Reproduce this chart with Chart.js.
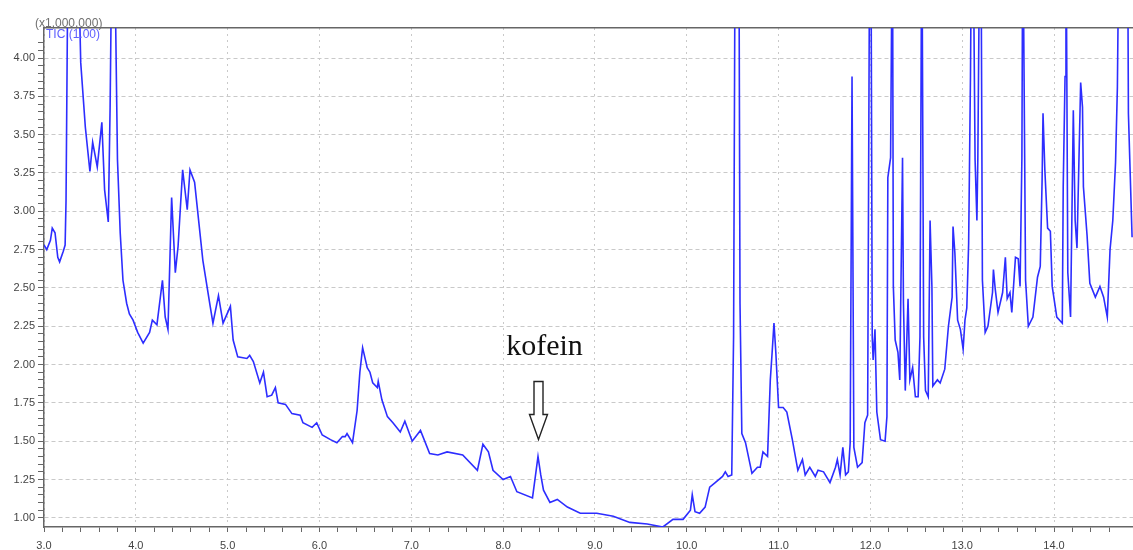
<!DOCTYPE html>
<html>
<head>
<meta charset="utf-8">
<title>TIC kofein</title>
<script src="https://cdn.jsdelivr.net/npm/chart.js@4/dist/chart.umd.min.js"></script>
<style>
  body { margin: 0; background: #fff; }
  canvas { display: block; }
</style>
</head>
<body>
<canvas id="myChart" width="1133" height="550"></canvas>
<script>
'use strict';

// retention time (min)
let times = [
  3.00, 3.03, 3.07, 3.09, 3.12, 3.15, 3.17, 3.21, 3.23, 3.24, 3.26, 3.32, 3.38, 3.40, 3.45, 3.50, 3.53, 3.58, 3.63, 3.66,
  3.70, 3.72, 3.74, 3.77, 3.80, 3.83, 3.86, 3.90, 3.93, 3.97, 4.02, 4.08, 4.15, 4.18, 4.23, 4.29, 4.32, 4.35, 4.39, 4.43, 4.46, 4.51, 4.56,
  4.59, 4.64, 4.73, 4.81, 4.84, 4.90, 4.95, 5.03, 5.06, 5.11, 5.21, 5.24, 5.28, 5.35, 5.39, 5.43, 5.48, 5.52, 5.55, 5.63,
  5.70, 5.79, 5.82, 5.92, 5.97, 6.03, 6.12, 6.19, 6.25, 6.28, 6.30, 6.36, 6.41, 6.44, 6.47, 6.52, 6.55, 6.58, 6.63, 6.64,
  6.68, 6.74, 6.80, 6.88, 6.93, 7.01, 7.10, 7.20, 7.29, 7.39, 7.56, 7.72, 7.78, 7.84, 7.89, 8.00, 8.08, 8.15, 8.32, 8.36,
  8.38, 8.41, 8.44, 8.51, 8.59, 8.70, 8.84, 9.02, 9.20, 9.38, 9.57, 9.74, 9.85, 9.96, 10.04, 10.06, 10.09, 10.14, 10.20, 10.25,
  10.31, 10.39, 10.42, 10.45, 10.49, 10.51, 10.55, 10.58, 10.60, 10.64, 10.71, 10.77, 10.80, 10.83, 10.88, 10.91, 10.93, 10.95, 10.97, 11.00,
  11.05, 11.09, 11.15, 11.21, 11.26, 11.29, 11.34, 11.40, 11.43, 11.49, 11.56, 11.62, 11.64, 11.67, 11.70, 11.73, 11.76, 11.78, 11.80, 11.82,
  11.86, 11.91, 11.94, 11.97, 11.98, 12.00, 12.02, 12.03, 12.05, 12.07, 12.11, 12.16, 12.18, 12.19, 12.22, 12.24, 12.25, 12.27, 12.30, 12.32,
  12.35, 12.36, 12.38, 12.41, 12.43, 12.46, 12.49, 12.52, 12.54, 12.56, 12.58, 12.60, 12.63, 12.65, 12.67, 12.68, 12.73, 12.76, 12.81, 12.85,
  12.89, 12.90, 12.92, 12.95, 12.98, 13.01, 13.03, 13.05, 13.07, 13.09, 13.11, 13.14, 13.16, 13.17, 13.20, 13.22, 13.25, 13.28, 13.33, 13.34,
  13.36, 13.39, 13.44, 13.47, 13.49, 13.52, 13.54, 13.58, 13.61, 13.63, 13.65, 13.66, 13.69, 13.72, 13.77, 13.82, 13.85, 13.87, 13.88, 13.90,
  13.93, 13.96, 13.98, 14.03, 14.09, 14.10, 14.12, 14.13, 14.15, 14.18, 14.21, 14.23, 14.25, 14.29, 14.31, 14.32, 14.36, 14.39, 14.45, 14.50,
  14.54, 14.58, 14.61, 14.64, 14.67, 14.69, 14.71, 14.80, 14.81, 14.85
];

// TIC intensity (x1,000,000)
let intensity = [
  2.78, 2.75, 2.81, 2.89, 2.86, 2.70, 2.67, 2.74, 2.78, 3.07, 4.60, 5.60, 4.50, 3.97, 3.55, 3.26, 3.45, 3.29, 3.58, 3.14,
  2.93, 3.68, 4.80, 4.70, 3.34, 2.86, 2.55, 2.40, 2.33, 2.29, 2.21, 2.14, 2.21, 2.29, 2.26, 2.55, 2.31, 2.23, 3.09, 2.60, 2.77, 3.27, 3.01,
  3.27, 3.19, 2.68, 2.38, 2.27, 2.45, 2.27, 2.38, 2.16, 2.05, 2.04, 2.06, 2.02, 1.88, 1.95, 1.79, 1.80, 1.85, 1.75, 1.74,
  1.68, 1.67, 1.62, 1.59, 1.62, 1.54, 1.51, 1.49, 1.53, 1.53, 1.55, 1.49, 1.70, 1.95, 2.11, 1.98, 1.95, 1.88, 1.85, 1.89,
  1.77, 1.66, 1.62, 1.56, 1.63, 1.50, 1.57, 1.42, 1.41, 1.43, 1.41, 1.31, 1.48, 1.43, 1.31, 1.25, 1.27, 1.17, 1.13, 1.31,
  1.40, 1.28, 1.18, 1.10, 1.12, 1.07, 1.03, 1.03, 1.01, 0.97, 0.96, 0.94, 0.99, 0.99, 1.05, 1.15, 1.04, 1.03, 1.07, 1.20,
  1.23, 1.27, 1.30, 1.27, 1.28, 2.18, 8.50, 2.40, 1.55, 1.49, 1.29, 1.33, 1.33, 1.43, 1.40, 1.90, 2.08, 2.27, 2.08, 1.72,
  1.72, 1.69, 1.51, 1.31, 1.38, 1.28, 1.33, 1.27, 1.31, 1.30, 1.23, 1.33, 1.38, 1.28, 1.46, 1.28, 1.30, 1.49, 3.88, 1.46,
  1.33, 1.36, 1.62, 1.67, 3.12, 6.00, 2.18, 2.03, 2.23, 1.69, 1.51, 1.50, 1.66, 3.22, 3.35, 5.00, 2.51, 2.16, 2.08, 1.90,
  3.35, 2.40, 1.83, 2.43, 1.90, 1.98, 1.79, 1.79, 2.18, 5.00, 2.18, 1.83, 1.79, 2.94, 2.51, 1.86, 1.90, 1.88, 1.97, 2.25,
  2.44, 2.90, 2.73, 2.29, 2.23, 2.10, 2.29, 2.37, 2.79, 3.88, 5.50, 3.34, 2.94, 3.34, 5.50, 2.55, 2.21, 2.25, 2.47, 2.62,
  2.49, 2.34, 2.47, 2.70, 2.43, 2.47, 2.34, 2.70, 2.69, 2.51, 3.35, 5.00, 2.55, 2.25, 2.31, 2.57, 2.64, 3.20, 3.64, 3.27,
  2.89, 2.87, 2.51, 2.31, 2.27, 3.16, 3.88, 5.00, 2.60, 2.31, 3.66, 2.94, 2.76, 3.84, 3.68, 3.16, 2.84, 2.53, 2.44, 2.51,
  2.44, 2.31, 2.75, 2.94, 3.32, 3.81, 5.00, 5.00, 3.64, 2.83
];

const scaleNote = '(x1,000,000)';
const traceNote = 'TIC (1.00)';
const peakLabel = 'kofein';
const peakTime = 8.38;
const peakValue = 1.40;

const xMin = 3.0;
const xMax = 14.86;
const yMin = 0.94;
const yMax = 4.196;

let points = [];
for ( let i = 0; i < times.length; i++ ) {
  points.push( { x: times[i], y: intensity[i] } );
}

function isStep( v, step ) {
  let r = v / step;
  return Math.abs( r - Math.round( r ) ) < 1e-6;
}

const gridGray = '#c9c9c9';
const axisGray = '#666';
const clear = 'rgba(0,0,0,0)';

// labels at the top left and the caffeine arrow
const notes = {
  id: 'notes',
  afterDatasetsDraw( chart ) {
    const { ctx, chartArea, scales } = chart;
    ctx.save();
    ctx.font = '12px "Liberation Sans", Arial, sans-serif';
    ctx.textBaseline = 'alphabetic';
    ctx.textAlign = 'left';
    ctx.fillStyle = '#707070';
    ctx.fillText( scaleNote, chartArea.left - 9, chartArea.top - 1 );
    ctx.fillStyle = '#6060ff';
    ctx.fillText( traceNote, chartArea.left + 2, chartArea.top + 10 );

    let px = Math.round( scales.x.getPixelForValue( peakTime ) ) + 0.5;
    let tip = scales.y.getPixelForValue( peakValue ) - 17;

    ctx.beginPath();
    ctx.moveTo( px - 4.5, tip - 58 );
    ctx.lineTo( px + 4.5, tip - 58 );
    ctx.lineTo( px + 4.5, tip - 25 );
    ctx.lineTo( px + 9, tip - 25 );
    ctx.lineTo( px, tip );
    ctx.lineTo( px - 9, tip - 25 );
    ctx.lineTo( px - 4.5, tip - 25 );
    ctx.closePath();
    ctx.fillStyle = '#fff';
    ctx.fill();
    ctx.lineWidth = 1.4;
    ctx.strokeStyle = '#222';
    ctx.stroke();

    ctx.font = '30px "Liberation Serif", "Times New Roman", serif';
    ctx.fillStyle = '#111';
    ctx.textAlign = 'center';
    ctx.fillText( peakLabel, px + 6, tip - 85 );
    ctx.restore();
  }
};

let ctx = document.getElementById( 'myChart' ).getContext( '2d' );
// eslint-disable-next-line no-unused-vars
let myChart = new Chart( ctx, {
  type: 'line',
  data: {
    datasets: [{
      label: traceNote,
      data: points,
      borderColor: 'rgb(45,45,255)',
      borderWidth: 1.6,
      pointRadius: 0,
      tension: 0,
      fill: false,
      xAxisID: 'x',
      yAxisID: 'y'
    }]
  },
  options: {
    responsive: false,
    animation: false,
    layout: { padding: 0 },
    plugins: {
      legend: { display: false },
      tooltip: { enabled: false }
    },
    scales: {
      x: {
        type: 'linear',
        position: 'bottom',
        min: xMin,
        max: xMax,
        afterFit: ( s ) => {
          s.height = 23;
          s.paddingLeft = 0;
          s.paddingRight = 0;
        },
        ticks: {
          stepSize: 0.2,
          autoSkip: false,
          maxRotation: 0,
          padding: 7,
          color: '#444',
          font: { family: '"Liberation Sans", Arial, sans-serif', size: 11 },
          callback: ( v ) => isStep( v, 1 ) ? v.toFixed( 1 ) : ''
        },
        grid: {
          tickLength: 5,
          color: ( c ) => ( c.tick && isStep( c.tick.value, 1 ) ) ? gridGray : clear,
          tickColor: ( c ) => ( c.tick && isStep( c.tick.value, 0.2 ) ) ? axisGray : clear
        },
        border: { color: axisGray, width: 1.5, dash: [2, 4] }
      },
      xTop: {
        type: 'linear',
        position: 'top',
        min: xMin,
        max: xMax,
        afterFit: ( s ) => {
          s.height = 28;
          s.paddingLeft = 0;
          s.paddingRight = 0;
        },
        ticks: { display: false },
        grid: { color: clear, drawTicks: false },
        border: { color: axisGray, width: 1.5 }
      },
      y: {
        type: 'linear',
        min: yMin,
        max: yMax,
        afterFit: ( s ) => { s.width = 44; },
        ticks: {
          stepSize: 0.05,
          maxTicksLimit: 1000,
          autoSkip: false,
          padding: 3,
          color: '#444',
          font: { family: '"Liberation Sans", Arial, sans-serif', size: 11 },
          callback: ( v ) => isStep( v, 0.25 ) ? v.toFixed( 2 ) : ''
        },
        grid: {
          tickLength: 6,
          color: ( c ) => ( c.tick && isStep( c.tick.value, 0.25 ) ) ? gridGray : clear,
          tickColor: ( c ) => ( c.tick && isStep( c.tick.value, 0.05 ) ) ? axisGray : clear
        },
        border: { color: axisGray, width: 1.5, dash: [4, 3] }
      }
    }
  },
  plugins: [notes]
} );
</script>
</body>
</html>
